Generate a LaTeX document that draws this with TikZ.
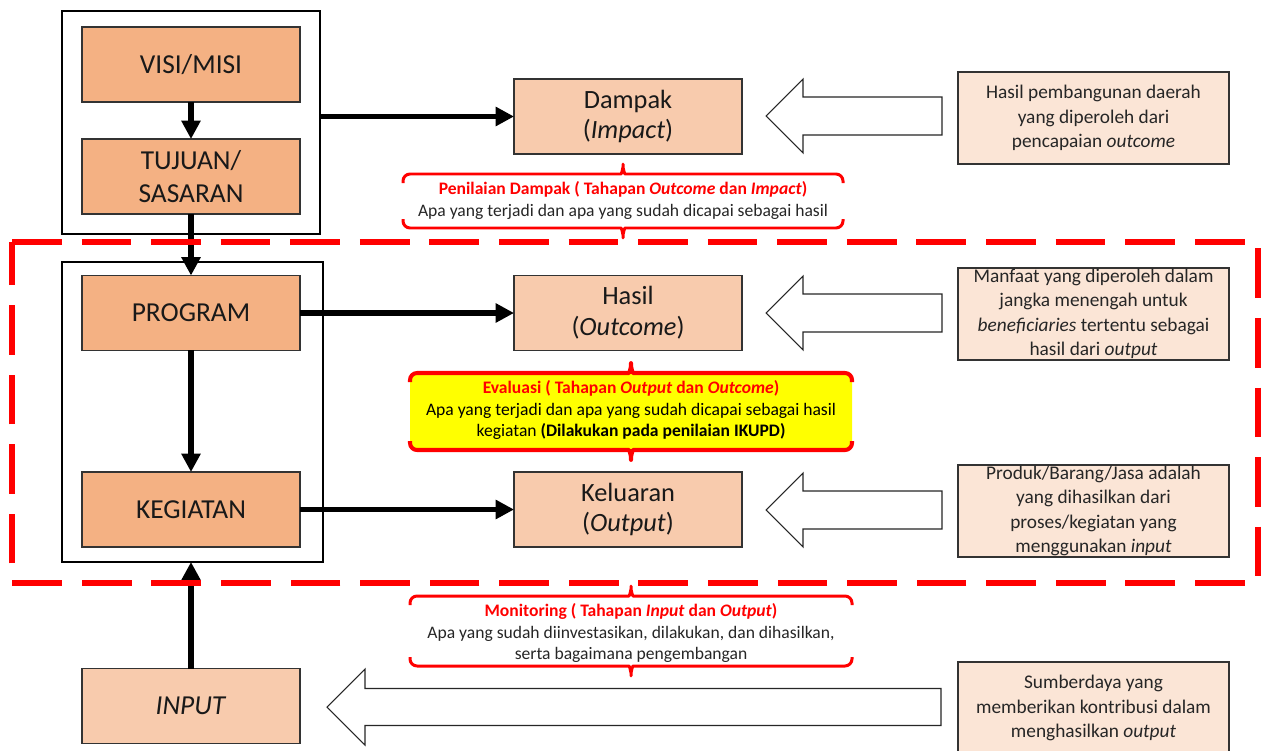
\documentclass[tikz,border=0pt]{standalone}
\usepackage{fontspec}
\setmainfont{Carlito}
\usetikzlibrary{arrows.meta}
\definecolor{boxdark}{HTML}{F4B183}
\definecolor{boxmid}{HTML}{F8CBAD}
\definecolor{boxlight}{HTML}{FBE5D6}
\definecolor{evalyellow}{HTML}{FFFF00}
\definecolor{alertred}{HTML}{FF0000}
\definecolor{inkgray}{HTML}{262626}

% curly cap over/under a note: centre x, line y, half width, 1 = tip up / -1 = tip down, width
\newcommand{\capbrace}[5]{%
  \begin{scope}[shift={(#1,#2)}, yscale=#4]
    \draw[alertred, line width=#5, rounded corners=4pt, line join=round]
      (-#3,9) -- (-#3,0) -- (-9,0) .. controls (-2,0) and (0,-4) .. (0,-14)
      .. controls (0,-4) and (2,0) .. (9,0) -- (#3,0) -- (#3,9);
  \end{scope}}

% hollow block arrow pointing left: tip x, head base x, tail x, centre y, head half height, shaft half height
\newcommand{\leftblock}[6]{%
  \draw[blockarrow] (#1,#4) -- (#2,#4-#5) -- (#2,#4-#6) -- (#3,#4-#6)
    -- (#3,#4+#6) -- (#2,#4+#6) -- (#2,#4+#5) -- cycle;}

\tikzset{
  framebox/.style={draw=black, line width=0.7pt, fill=white, inner sep=0pt, outer sep=0pt},
  levelbox/.style={draw=black!80, line width=0.7pt, fill=boxdark, minimum width=4.36cm,
    minimum height=1.5cm, inner sep=0pt, outer sep=0pt, align=center,
    font=\fontsize{15.6}{18.5}\selectfont, text=black!90},
  resultbox/.style={draw=black!80, line width=0.7pt, fill=boxmid, minimum width=4.56cm,
    minimum height=1.5cm, inner sep=0pt, outer sep=0pt, align=center,
    font=\fontsize{15}{17.5}\selectfont, text=black!90},
  notebox/.style={draw=black!80, line width=0.7pt, fill=boxlight, minimum width=5.42cm,
    minimum height=1.84cm, inner sep=0pt, outer sep=0pt, align=center,
    font=\fontsize{11}{13.9}\selectfont, text=inkgray},
  bracetext/.style={align=center, inner sep=0pt, font=\fontsize{10}{12.4}\selectfont, text=inkgray},
  flow/.style={line width=3.3pt, -{Triangle[length=10.5pt,width=10.5pt]}},
  blockarrow/.style={draw=black!85, line width=0.6pt, fill=white, line join=miter},
  scopeframe/.style={draw=alertred, line width=3.4pt, dash pattern=on 28.3pt off 11.3pt}
}

\begin{document}
\begin{tikzpicture}[x=0.02cm, y=-0.02cm]
\useasboundingbox (0,0) rectangle (1270,750);

% strategic and programme frames
\node[framebox, minimum width=5.16cm, minimum height=4.46cm] (plan) at (191,122.5) {};
\node[framebox, minimum width=5.22cm, minimum height=6.0cm] (work) at (192.5,412) {};

% planning hierarchy
\node[levelbox] (visi) at (191,64.5) {VISI/MISI};
\node[levelbox] (tujuan) at (191,176.5) {TUJUAN/\\SASARAN};
\node[levelbox] (program) at (191,313) {PROGRAM};
\node[levelbox] (kegiatan) at (191,509.5) {KEGIATAN};
\node[levelbox, fill=boxmid] (input) at (191,706) {\textit{INPUT}};

% results chain
\node[resultbox] (dampak) at (628,116.5) {Dampak\\(\textit{Impact})};
\node[resultbox] (hasil) at (628,313) {Hasil\\(\textit{Outcome})};
\node[resultbox] (keluaran) at (628,509.5) {Keluaran\\(\textit{Output})};

% definitions
\node[notebox] (defdampak) at (1093.5,118) {Hasil pembangunan daerah\\yang diperoleh dari\\pencapaian \textit{outcome}};
\node[notebox] (defhasil) at (1093.5,314) {Manfaat yang diperoleh dalam\\jangka menengah untuk\\\textit{beneficiaries} tertentu sebagai\\hasil dari \textit{output}};
\node[notebox] (defkeluaran) at (1093.5,511) {Produk/Barang/Jasa adalah\\yang dihasilkan dari\\proses/kegiatan yang\\menggunakan \textit{input}};
\node[notebox] (definput) at (1093.5,708) {Sumberdaya yang\\memberikan kontribusi dalam\\menghasilkan \textit{output}};

% hollow arrows from the definitions
\leftblock{766}{803}{942}{116}{37}{19}
\leftblock{766}{803}{942}{313}{37}{19}
\leftblock{766}{803}{942}{510}{37}{19}
\leftblock{327}{365}{941}{707}{38}{18.5}

% flow arrows
\draw[flow] (visi.south) -- (tujuan.north);
\draw[flow] (tujuan.south) -- (program.north);
\draw[flow] (program.south) -- (kegiatan.north);
\draw[flow] (input.north) -- (input.north |- work.south);
\draw[flow] (plan.east |- dampak.west) -- (dampak.west);
\draw[flow] (program.east) -- (hasil.west);
\draw[flow] (kegiatan.east) -- (keluaran.west);

% evaluation stages
\fill[evalyellow, rounded corners=5pt] (410,372) rectangle (852,451);
\capbrace{623}{174}{220}{1}{1.7pt}
\capbrace{623}{228}{220}{-1}{1.7pt}
\capbrace{631}{373}{221}{1}{2.3pt}
\capbrace{631}{450}{221}{-1}{2.3pt}
\capbrace{631}{596}{221}{1}{1.7pt}
\capbrace{631}{666}{221}{-1}{1.7pt}

\node[bracetext] (notedampak) at (623,200.5)
  {\textcolor{alertred}{\textbf{Penilaian Dampak ( Tahapan \textit{Outcome} dan \textit{Impact})}}\\
   Apa yang terjadi dan apa yang sudah dicapai sebagai hasil};
\node[bracetext, text=black] (noteeval) at (631,410)
  {\textcolor{alertred}{\textbf{Evaluasi ( Tahapan \textit{Output} dan \textit{Outcome})}}\\
   Apa yang terjadi dan apa yang sudah dicapai sebagai hasil\\
   kegiatan \textbf{(Dilakukan pada penilaian IKUPD)}};
\node[bracetext] (notemonitor) at (631,633)
  {\textcolor{alertred}{\textbf{Monitoring ( Tahapan \textit{Input} dan \textit{Output})}}\\
   Apa yang sudah diinvestasikan, dilakukan, dan dihasilkan,\\
   serta bagaimana pengembangan};

% scope of the IKUPD assessment
\draw[scopeframe] (12,242) -- (1258,242) -- (1258,583) -- (12,583) -- cycle;
\end{tikzpicture}
\end{document}
